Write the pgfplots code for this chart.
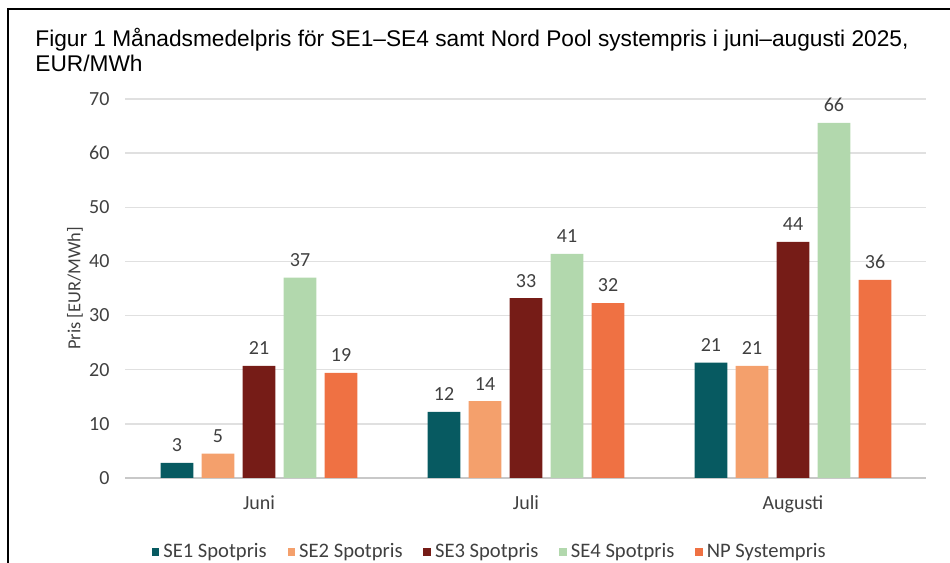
\documentclass[border=0pt]{standalone}
\usepackage{fontspec}
\setmainfont{Carlito}
\newfontfamily\titlefont{Liberation Sans}
\usepackage{pgfplots}
\pgfplotsset{compat=1.18}
\definecolor{cse1}{HTML}{075A61}
\definecolor{cse2}{HTML}{F4A06C}
\definecolor{cse3}{HTML}{761C17}
\definecolor{cse4}{HTML}{B2D8AD}
\definecolor{cnp}{HTML}{EF7143}
\definecolor{gridgray}{HTML}{E0E0E0}
\definecolor{zerogray}{HTML}{C8C8C8}
\definecolor{txtgray}{HTML}{404040}
\begin{document}
\begin{tikzpicture}
\useasboundingbox (0,0) rectangle (475pt,281.5pt);
\draw[line width=0.8pt] (4pt,0) -- (4pt,277pt) -- (475pt,277pt);
\node[anchor=base west, inner sep=0, font=\titlefont\fontsize{11.35}{13}\selectfont] at (17.5pt,258pt) {Figur 1 Månadsmedelpris för SE1–SE4 samt Nord Pool systempris i juni–augusti 2025,};
\node[anchor=base west, inner sep=0, font=\titlefont\fontsize{11.35}{13}\selectfont] at (17.5pt,245.5pt) {EUR/MWh};
\begin{axis}[
  at={(62.75pt,42.5pt)}, anchor=south west,
  scale only axis, width=400.5pt, height=189.5pt,
  xmin=-0.5, xmax=2.5, ymin=0, ymax=70,
  ytick={0,10,...,70},
  xtick={0,1,2}, xticklabels={Juni,Juli,Augusti},
  ybar=4.2pt, bar width=16.3pt,
  axis x line*=bottom, axis y line*=left,
  x axis line style={draw=zerogray, line width=0.8pt, -},
  y axis line style={draw=none},
  major tick length=0pt,
  ymajorgrids, grid style={draw=gridgray, line width=0.7pt},
  /pgf/number format/assume math mode=true,
  yticklabel style={font=\fontsize{10}{11}\selectfont, text=txtgray, xshift=-4.5pt},
  xticklabel style={font=\fontsize{10}{11}\selectfont, text=txtgray, yshift=-5.5pt},
  ylabel={Pris [EUR/MWh]},
  ylabel style={at={(axis description cs:-0.0630,0.5)}, anchor=center, font=\fontsize{9.2}{10}\selectfont, text=txtgray},
  nodes near coords, point meta=explicit symbolic,
  every node near coord/.append style={font=\fontsize{10}{11}\selectfont, text=txtgray, yshift=2pt},
  clip=false,
  legend columns=5,
  legend style={draw=none, at={(0.456,-0.195)}, anchor=center, font=\fontsize{10.3}{11}\selectfont, text=txtgray,
    /tikz/every even column/.append style={column sep=8.4pt}},
  legend image code/.code={\fill[#1] (0pt,-1.9pt) rectangle (3.8pt,1.9pt);},
]
\addplot[fill=cse1, draw=none] coordinates {(0,2.8) [3] (1,12.2) [12] (2,21.3) [21]};
\addplot[fill=cse2, draw=none] coordinates {(0,4.5) [5] (1,14.2) [14] (2,20.7) [21]};
\addplot[fill=cse3, draw=none] coordinates {(0,20.7) [21] (1,33.2) [33] (2,43.6) [44]};
\addplot[fill=cse4, draw=none] coordinates {(0,37.0) [37] (1,41.4) [41] (2,65.6) [66]};
\addplot[fill=cnp, draw=none] coordinates {(0,19.4) [19] (1,32.3) [32] (2,36.6) [36]};
\legend{SE1 Spotpris, SE2 Spotpris, SE3 Spotpris, SE4 Spotpris, NP Systempris}
\end{axis}
\end{tikzpicture}
\end{document}
